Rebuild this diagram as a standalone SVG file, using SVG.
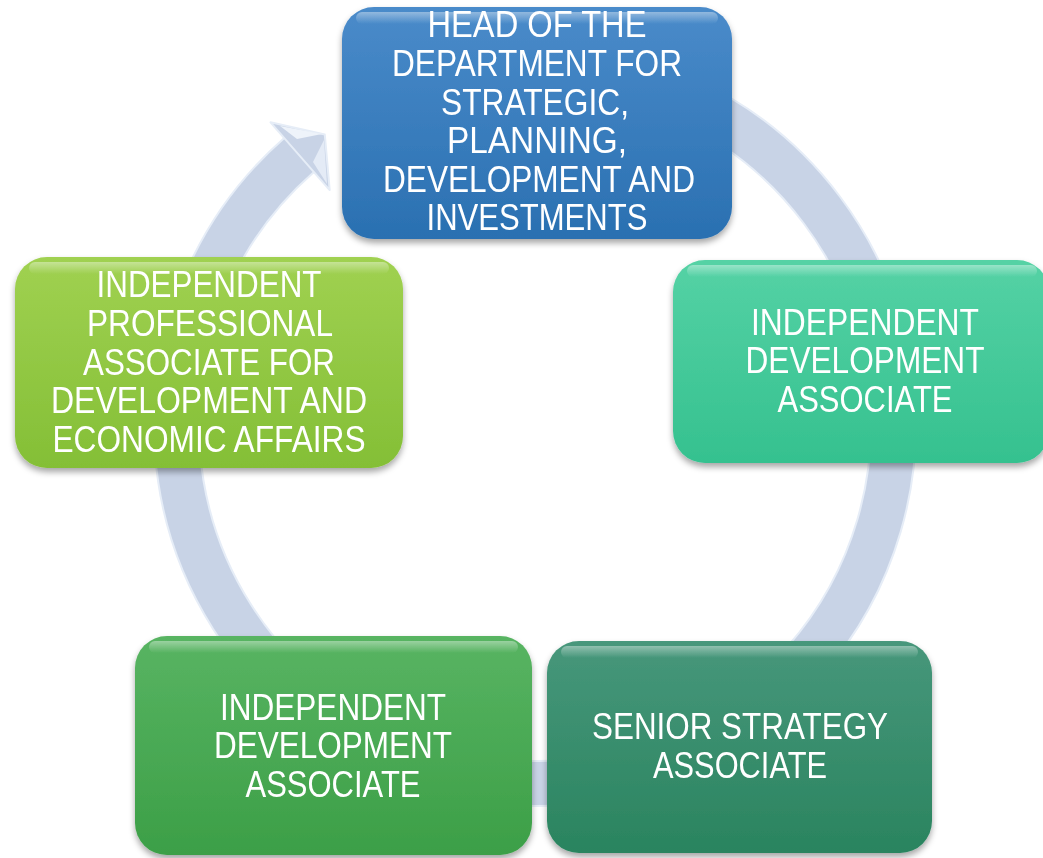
<svg xmlns="http://www.w3.org/2000/svg" width="1043" height="858" viewBox="0 0 1043 858">
<style>
.lbl{font-family:"Liberation Sans",Arial,sans-serif;font-size:37px;fill:#ffffff;text-anchor:middle;}
.ring{fill:none;stroke:#c8d3e6;stroke-width:43;}
.ringedge{fill:none;stroke:#e6edf7;stroke-width:47;}
.gloss{fill:url(#gloss);}
</style>
<defs>
<linearGradient id="gBlue" x1="0" y1="0" x2="0" y2="1"><stop offset="0" stop-color="#4a8bca"/><stop offset="1" stop-color="#2a70b1"/></linearGradient>
<linearGradient id="gLime" x1="0" y1="0" x2="0" y2="1"><stop offset="0" stop-color="#a0d151"/><stop offset="1" stop-color="#84bf36"/></linearGradient>
<linearGradient id="gTeal" x1="0" y1="0" x2="0" y2="1"><stop offset="0" stop-color="#55d2a5"/><stop offset="1" stop-color="#35c18f"/></linearGradient>
<linearGradient id="gGreen" x1="0" y1="0" x2="0" y2="1"><stop offset="0" stop-color="#58b462"/><stop offset="1" stop-color="#3c9f47"/></linearGradient>
<linearGradient id="gDark" x1="0" y1="0" x2="0" y2="1"><stop offset="0" stop-color="#47977b"/><stop offset="1" stop-color="#2a845f"/></linearGradient>
<linearGradient id="gloss" x1="0" y1="0" x2="0" y2="1"><stop offset="0" stop-color="#ffffff" stop-opacity="0.4"/><stop offset="1" stop-color="#ffffff" stop-opacity="0"/></linearGradient>
<filter id="shadow" x="-10%" y="-10%" width="120%" height="125%">
<feDropShadow dx="0" dy="4" stdDeviation="3" flood-color="#000000" flood-opacity="0.35"/>
</filter>
</defs>
<rect width="1043" height="858" fill="#ffffff"/>
<g id="connectors">
<path class="ringedge" d="M 535 66.5 A 358.5 358.5 0 1 1 299.1 155"/>
<path class="ring" d="M 535 66.5 A 358.5 358.5 0 1 1 299.1 155"/>
<polygon points="270.5,122.3 324.8,134.6 329.7,190.1" fill="#c8d3e6" stroke="#e6edf7" stroke-width="2" stroke-linejoin="round"/>
<polygon points="280,126 297,139 322,134" fill="#eef3fa"/>
<polygon points="313,162 324,140 327,184" fill="#e4ebf6"/>
</g>
<g id="node-head" filter="url(#shadow)">
<rect x="342" y="7" width="390" height="232" rx="32" fill="url(#gBlue)"/>
<rect x="356" y="12" width="362" height="12" rx="6" class="gloss"/>
<text class="lbl" x="537" y="37" textLength="219" lengthAdjust="spacingAndGlyphs">HEAD OF THE</text>
<text class="lbl" x="537" y="76" textLength="290" lengthAdjust="spacingAndGlyphs">DEPARTMENT FOR</text>
<text class="lbl" x="535" y="115" textLength="188" lengthAdjust="spacingAndGlyphs">STRATEGIC,</text>
<text class="lbl" x="537" y="153" textLength="180" lengthAdjust="spacingAndGlyphs">PLANNING,</text>
<text class="lbl" x="539" y="192" textLength="312" lengthAdjust="spacingAndGlyphs">DEVELOPMENT AND</text>
<text class="lbl" x="537" y="230" textLength="221" lengthAdjust="spacingAndGlyphs">INVESTMENTS</text>
</g>
<g id="node-right" filter="url(#shadow)">
<rect x="673" y="260" width="376" height="203" rx="32" fill="url(#gTeal)"/>
<rect x="687" y="265" width="350" height="12" rx="6" class="gloss"/>
<text class="lbl" x="865" y="335" textLength="228" lengthAdjust="spacingAndGlyphs">INDEPENDENT</text>
<text class="lbl" x="865" y="373" textLength="239" lengthAdjust="spacingAndGlyphs">DEVELOPMENT</text>
<text class="lbl" x="865" y="412" textLength="175" lengthAdjust="spacingAndGlyphs">ASSOCIATE</text>
</g>
<g id="node-senior" filter="url(#shadow)">
<rect x="547" y="641" width="385" height="212" rx="32" fill="url(#gDark)"/>
<rect x="561" y="646" width="357" height="12" rx="6" class="gloss"/>
<text class="lbl" x="740" y="739" textLength="296" lengthAdjust="spacingAndGlyphs">SENIOR STRATEGY</text>
<text class="lbl" x="740" y="778" textLength="174" lengthAdjust="spacingAndGlyphs">ASSOCIATE</text>
</g>
<g id="node-bottom-left" filter="url(#shadow)">
<rect x="135" y="636" width="397" height="219" rx="32" fill="url(#gGreen)"/>
<rect x="149" y="641" width="369" height="12" rx="6" class="gloss"/>
<text class="lbl" x="333" y="720" textLength="226" lengthAdjust="spacingAndGlyphs">INDEPENDENT</text>
<text class="lbl" x="333" y="758" textLength="238" lengthAdjust="spacingAndGlyphs">DEVELOPMENT</text>
<text class="lbl" x="333" y="797" textLength="175" lengthAdjust="spacingAndGlyphs">ASSOCIATE</text>
</g>
<g id="node-left" filter="url(#shadow)">
<rect x="15" y="257" width="388" height="211" rx="32" fill="url(#gLime)"/>
<rect x="29" y="262" width="360" height="12" rx="6" class="gloss"/>
<text class="lbl" x="209" y="297" textLength="225" lengthAdjust="spacingAndGlyphs">INDEPENDENT</text>
<text class="lbl" x="210" y="336" textLength="246" lengthAdjust="spacingAndGlyphs">PROFESSIONAL</text>
<text class="lbl" x="209" y="375" textLength="252" lengthAdjust="spacingAndGlyphs">ASSOCIATE FOR</text>
<text class="lbl" x="209" y="413" textLength="316" lengthAdjust="spacingAndGlyphs">DEVELOPMENT AND</text>
<text class="lbl" x="209" y="452" textLength="313" lengthAdjust="spacingAndGlyphs">ECONOMIC AFFAIRS</text>
</g>
</svg>
